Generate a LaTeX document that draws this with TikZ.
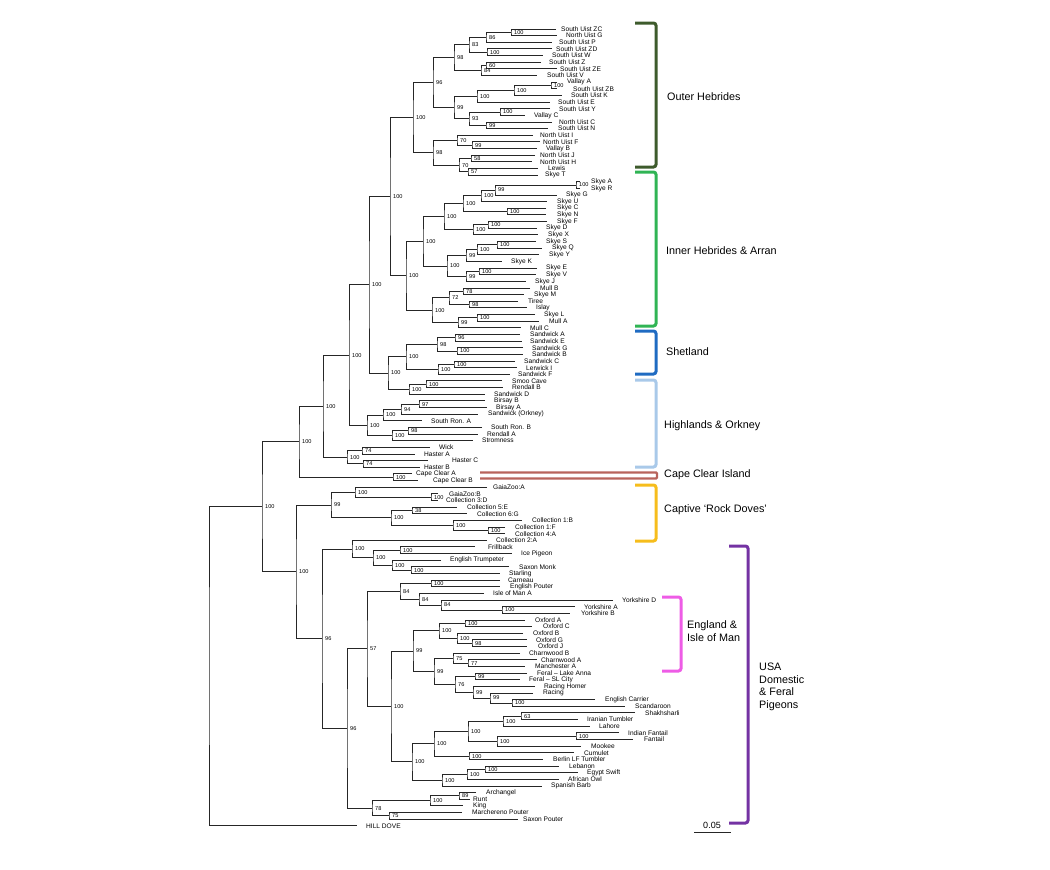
\documentclass[tikz,border=0pt]{standalone}
\usepackage{fontspec}
\setmainfont{Liberation Sans}
\usetikzlibrary{calc}
\pgfmathsetmacro{\leafTop}{29}
\pgfmathsetmacro{\leafGap}{6.64}
\definecolor{outerGreen}{HTML}{3E5B2C}
\definecolor{innerGreen}{HTML}{30B454}
\definecolor{shetBlue}{HTML}{1F6BC2}
\definecolor{highBlue}{HTML}{A9C9E9}
\definecolor{capeRed}{HTML}{B8645C}
\definecolor{captGold}{HTML}{F6BD1C}
\definecolor{engPink}{HTML}{EE5CE6}
\definecolor{usaPurple}{HTML}{7433A3}
\tikzset{
	branch/.style={draw=black!85, line width=0.9pt},
	leaf/.style={anchor=west, inner sep=0pt, font=\fontsize{6.6}{7}\selectfont},
	boot/.style={anchor=west, inner sep=0pt, xshift=3pt, font=\fontsize{5.6}{6}\selectfont},
	group/.style={anchor=west, inner sep=0pt, align=left, font=\fontsize{10.8}{12.6}\selectfont},
	bracket/.style={line width=3pt, rounded corners=2.5pt}
}

\begin{document}
\begin{tikzpicture}[x=1pt,y=-1pt]
\useasboundingbox (0,0) rectangle (1050,870);

% taxa: name / row / branch tip / label start / text
\foreach \id/\row/\tip/\lx/\txt in {
	suZC/1/556/561/South Uist ZC,
	nuG/2/557/566/North Uist G,
	suP/3/552/559/South Uist P,
	suZD/4/552/556/South Uist ZD,
	suW/5/543/552/South Uist W,
	suZ/6/541/549/South Uist Z,
	suZE/7/557/560/South Uist ZE,
	suV/8/537/547/South Uist V,
	vaA/9/557/567/Vallay A,
	suZB/10/557/573/South Uist ZB,
	suK/11/562/571/South Uist K,
	suE/12/550/558/South Uist E,
	suY/13/550/559/South Uist Y,
	vaC/14/525/534/Vallay C,
	nuC/15/552/559/North Uist C,
	suN/16/548/558/South Uist N,
	nuI/17/533/540/North Uist I,
	nuF/18/540/543/North Uist F,
	vaB/19/537/546/Vallay B,
	nuJ/20/535/540/North Uist J,
	nuH/21/532/540/North Uist H,
	lewis/22/538/548/Lewis,
	skT/23/538/545/Skye T,
	skA/24/580/591/Skye A,
	skR/25/580/591/Skye R,
	skG/26/557/566/Skye G,
	skU/27/547/557/Skye U,
	skC/28/546/557/Skye C,
	skN/29/546/557/Skye N,
	skF/30/547/557/Skye F,
	skD/31/537/546/Skye D,
	skX/32/538/548/Skye X,
	skS/33/536/546/Skye S,
	skQ/34/542/552/Skye Q,
	skY/35/539/549/Skye Y,
	skK/36/502/511/Skye K,
	skE/37/537/546/Skye E,
	skV/38/536/546/Skye V,
	skJ/39/526/535/Skye J,
	muB/40/530/540/Mull B,
	skM/41/524/534/Skye M,
	tiree/42/518/528/Tiree,
	islay/43/527/536/Islay,
	skL/44/535/544/Skye L,
	muA/45/539/549/Mull A,
	muC/46/521/530/Mull C,
	swA/47/520/530/Sandwick A,
	swE/48/522/530/Sandwick E,
	swG/49/523/532/Sandwick G,
	swB/50/523/532/Sandwick B,
	swC/51/515/524/Sandwick C,
	lerI/52/517/526/Lerwick I,
	swF/53/510/518/Sandwick F,
	smoo/54/502/512/Smoo Cave,
	renB/55/503/512/Rendall B,
	swD/56/485/494/Sandwick D,
	birB/57/485/494/Birsay B,
	birA/58/487/496/Birsay A,
	swO/59/478/488/Sandwick (Orkney),
	srA/60/422/431/South Ron. A,
	srB/61/482/491/South Ron. B,
	renA/62/478/487/Rendall A,
	strom/63/473/482/Stromness,
	wick/64/430/439/Wick,
	haA/65/415/424/Haster A,
	haC/66/428/452/Haster C,
	haB/67/420/424/Haster B,
	ccA/68/412/416/Cape Clear A,
	ccB/69/418/433/Cape Clear B,
	gzA/70/487/493/GaiaZoo:A,
	gzB/71/438/449/GaiaZoo:B,
	colD/72/438/446/Collection 3:D,
	colE/73/457/467/Collection 5:E,
	colG/74/467/477/Collection 6:G,
	colB/75/522/532/Collection 1:B,
	colF/76/505/515/Collection 1:F,
	colA/77/505/515/Collection 4:A,
	colTwo/78/487/496/Collection 2:A,
	frill/79/475/488/Frillback,
	ice/80/512/521/Ice Pigeon,
	engT/81/441/450/English Trumpeter,
	saxM/82/509/519/Saxon Monk,
	starl/83/500/509/Starling,
	carn/84/500/508/Carneau,
	engP/85/500/510/English Pouter,
	iomA/86/484/493/Isle of Man A,
	yoD/87/613/622/Yorkshire D,
	yoA/88/575/584/Yorkshire A,
	yoB/89/570/581/Yorkshire B,
	oxA/90/525/535/Oxford A,
	oxC/91/532/543/Oxford C,
	oxB/92/523/533/Oxford B,
	oxG/93/527/536/Oxford G,
	oxJ/94/527/538/Oxford J,
	chB/95/520/529/Charnwood B,
	chA/96/537/541/Charnwood A,
	manA/97/525/535/Manchester A,
	ferLA/98/527/537/Feral – Lake Anna,
	ferSL/99/520/529/Feral – SL City,
	racH/100/535/544/Racing Homer,
	rac/101/533/543/Racing,
	engC/102/595/605/English Carrier,
	scand/103/625/635/Scandaroon,
	shak/104/635/645/Shakhsharli,
	iran/105/578/587/Iranian Tumbler,
	lahore/106/590/599/Lahore,
	indF/107/619/628/Indian Fantail,
	fant/108/633/644/Fantail,
	mookee/109/581/591/Mookee,
	cumul/110/574/584/Cumulet,
	berlin/111/543/553/Berlin LF Tumbler,
	leban/112/559/569/Lebanon,
	egypt/113/578/587/Egypt Swift,
	afowl/114/559/568/African Owl,
	spbarb/115/542/551/Spanish Barb,
	arch/116/476/486/Archangel,
	runt/117/470/473/Runt,
	king/118/463/473/King,
	marP/119/462/472/Marchereno Pouter,
	saxP/120/518/523/Saxon Pouter,
	hill/121/357/366/HILL DOVE%
}{
	\pgfmathsetmacro{\ly}{\leafTop+(\row-1)*\leafGap}
	\coordinate (\id) at (\tip,\ly);
	\node[leaf] (\id label) at (\lx,\ly) {\txt};
}

% clades: name / x / first child / last child / bootstrap
\foreach \id/\xpos/\ca/\cb/\bs in {
	a1/511/suZC/nuG/100, a2/486/a1/suP/86, a3/487/suZD/suW/100,
	a4/469/a2/a3/83, a5/486/suZ/suZE/60, a6/481/a5/suV/84,
	a7/454/a4/a6/98, a8/551/vaA/suZB/100, a9/514/a8/suK/100,
	a10/477/a9/suE/100, a11/500/suY/vaC/100, a12/486/nuC/suN/99,
	a13/469/a11/a12/93, a14/454/a10/a13/99, a15/433/a7/a14/96,
	a16/472/nuF/vaB/99, a17/457/nuI/a16/70, a18/471/nuJ/nuH/58,
	a19/468/lewis/skT/57, a20/459/a18/a19/70, a21/433/a17/a20/98,
	outer/413/a15/a21/100,
	b1/576/skA/skR/100, b2/495/b1/skG/99, b3/481/b2/skU/100,
	b4/507/skC/skN/100, b5/463/b3/b4/100, b6/488/skF/skD/100,
	b7/473/b6/skX/100, b8/444/b5/b7/100, b9/497/skS/skQ/100,
	b10/477/b9/skY/100, b11/466/b10/skK/99, b12/479/skE/skV/100,
	b13/466/b12/skJ/99, b14/447/b11/b13/100, b15/423/b8/b14/100,
	b16/463/muB/skM/78, b17/469/tiree/islay/98, b18/449/b16/b17/72,
	b19/477/skL/muA/100, b20/458/b19/muC/99, b21/432/b18/b20/100,
	inner/406/b15/b21/100, hebr/390/outer/inner/100,
	c1/455/swA/swE/96, c2/457/swG/swB/100, c3/437/c1/c2/98,
	c4/454/swC/lerI/100, c5/438/c4/swF/100, shet/406/c3/c5/100,
	c6/426/smoo/renB/100, c7/409/c6/swD/100, c8/388/shet/c7/100,
	isles/369/hebr/c8/100,
	d1/419/birB/birA/97, d2/401/d1/swO/94, d3/383/d2/srA/100,
	d4/408/srB/renA/98, d5/392/d4/strom/100, orkney/367/d3/d5/100,
	north/349/isles/orkney/100,
	d6/362/wick/haA/74, d7/363/haC/haB/74, d8/347/d6/d7/100,
	scot/323/north/d8/100, cape/393/ccA/ccB/100, wild/299/scot/cape/100,
	e1/431/gzB/colD/100, e2/355/gzA/e1/100, e3/412/colE/colG/38,
	e4/488/colF/colA/100, e5/453/colB/e4/100, e6/391/e3/e5/100,
	captive/331/e2/e6/99,
	f1/400/frill/ice/100, f2/411/saxM/starl/100, f3/392/engT/f2/100,
	f4/373/f1/f3/100, f5/352/colTwo/f4/100,
	g1/431/carn/engP/100, g2/502/yoA/yoB/100, g3/441/yoD/g2/84,
	g4/419/iomA/g3/84, g5/400/g1/g4/84,
	g6/465/oxA/oxC/100, g7/472/oxG/oxJ/98, g8/457/oxB/g7/100,
	g9/439/g6/g8/100, g10/468/chA/manA/77, g11/453/chB/g10/75,
	g12/475/ferLA/ferSL/99, g13/512/engC/scand/100, g14/490/rac/g13/99,
	g15/473/racH/g14/99, g16/455/g12/g15/76, g17/434/g11/g16/99,
	g18/413/g9/g17/99,
	g19/521/shak/iran/63, g20/503/g19/lahore/100, g21/576/indF/fant/100,
	g22/497/g21/mookee/100, g23/468/g20/g22/100, g24/469/cumul/berlin/100,
	g25/434/g23/g24/100, g26/485/leban/egypt/100, g27/467/g26/afowl/100,
	g28/442/g27/spbarb/100, g29/412/g25/g28/100, g30/391/g18/g29/100,
	g31/367/g5/g30/57,
	h1/459/arch/runt/89, h2/430/h1/king/100, h3/389/marP/saxP/75,
	h4/372/h2/h3/78, h5/347/g31/h4/96,
	domestic/322/f5/h5/96, pigeons/296/captive/domestic/100,
	ingroup/262/wild/pigeons/100%
}{
	\path let \p1=($(\ca)!.5!(\cb)$) in (\xpos pt,\y1) coordinate (\id);
	\draw[branch] (\ca) -| (\id) |- (\cb);
	\node[boot] (\id boot) at (\id) {\bs};
}

% root to outgroup
\path let \p1=($(ingroup)!.5!(hill)$) in (209pt,\y1) coordinate (root);
\draw[branch] (ingroup) -| (root) |- (hill);

% scale bar
\coordinate (scale l) at (694,832);
\coordinate (scale r) at (731,832);
\draw[branch] (scale l) -- (scale r);
\node[font=\fontsize{9}{10}\selectfont, inner sep=0pt] (scale) at (712,825) {0.05};

% region brackets
\draw[bracket, outerGreen] (635,23) -- (656,23) -- (656,167) -- (635,167);
\draw[bracket, innerGreen] (635,172) -- (656,172) -- (656,326) -- (635,326);
\draw[bracket, shetBlue] (635,331) -- (656,331) -- (656,374) -- (635,374);
\draw[bracket, highBlue] (635,380) -- (656,380) -- (656,467) -- (635,467);
\draw[bracket, capeRed, line width=2.4pt, rounded corners=1pt] (480,472.5) -- (657,472.5) -- (657,478.5) -- (480,478.5);
\draw[bracket, captGold] (635,485) -- (656,485) -- (656,541) -- (635,541);
\draw[bracket, engPink] (662,597) -- (681,597) -- (681,671) -- (662,671);
\draw[bracket, usaPurple] (729,546) -- (748,546) -- (748,823) -- (729,823);

\node[group] (outer name) at (667,97) {Outer Hebrides};
\node[group] (inner name) at (666,251) {Inner Hebrides \& Arran};
\node[group] (shet name) at (666,352) {Shetland};
\node[group] (orkney name) at (664,426) {Highlands \& Orkney};
\node[group] (cape name) at (664,475) {Cape Clear Island};
\node[group] (captive name) at (664,510) {Captive ‘Rock Doves’};
\node[group] (england name) at (687,631) {England \&\\Isle of Man};
\node[group] (usa name) at (759,687) {USA\\Domestic\\\& Feral\\Pigeons};
\end{tikzpicture}
\end{document}
